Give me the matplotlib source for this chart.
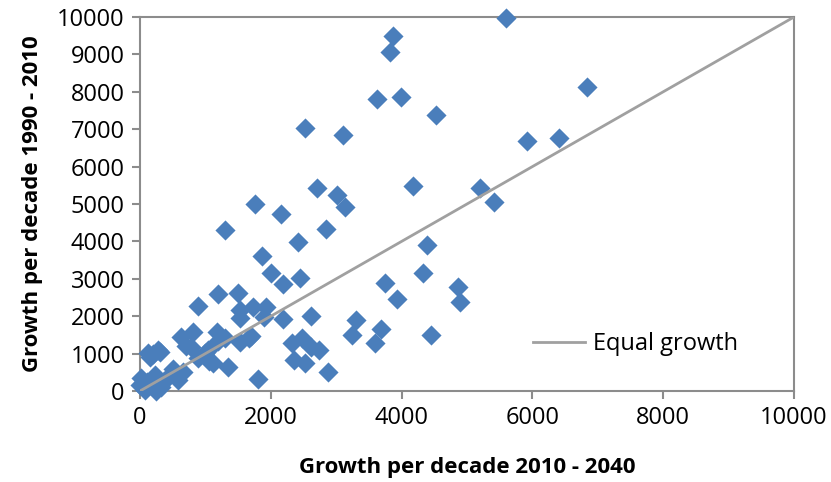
import matplotlib
matplotlib.use("Agg")
import matplotlib.pyplot as plt

# growth per decade, 2010 - 2040 (x) against 1990 - 2010 (y)
growth_2010_2040 = [
    5600, 3870, 3830, 3990, 3620, 4520, 6830, 5920, 6400, 4170,
    5200, 5410, 4390, 4330, 3740, 3930, 4860, 4890, 3680, 3600,
    4450, 2530, 3110, 2700, 3010, 3140, 1760, 2150, 1300, 2840,
    2410, 1860, 2010, 2180, 2450, 890, 1200, 1500, 1530, 1530,
    1730, 1920, 1890, 2190, 2610, 1700, 1530, 1170, 1040, 890,
    1120, 1350, 1810, 2320, 2470, 2610, 2730, 2350, 2530, 2880,
    3310, 3240, 630, 810, 780, 1000, 1300, 1660, 310, 150,
    280, 120, 15, 0, 80, 230, 320, 430, 580, 660,
    250, 100, 350, 1050, 700, 500, 1200, 200,
]
growth_1990_2010 = [
    9980, 9500, 9060, 7860, 7800, 7380, 8130, 6680, 6770, 5480,
    5430, 5050, 3900, 3150, 2890, 2460, 2780, 2380, 1660, 1280,
    1500, 7020, 6840, 5430, 5240, 4920, 5000, 4730, 4300, 4330,
    3990, 3610, 3150, 2860, 3020, 2270, 2590, 2620, 2170, 1950,
    2250, 2250, 1980, 1920, 2000, 1470, 1310, 1580, 1100, 880,
    750, 640, 320, 1280, 1420, 1180, 1100, 830, 750, 510,
    1900, 1500, 1440, 1580, 1180, 1020, 1420, 1420, 1040, 910,
    1100, 1020, 350, 160, 30, 430, 110, 370, 290, 510,
    0, 250, 250, 800, 1200, 600, 1350, 1000,
]
equal_line = [0, 10000]

x_ticks = [0, 2000, 4000, 6000, 8000, 10000]
y_ticks = list(range(0, 10001, 1000))

plt.rcParams['font.family'] = ['Open Sans', 'DejaVu Sans']

fig = plt.figure(figsize=(8.31, 4.82), dpi=100)
ax = fig.add_axes([140 / 831, 1 - 391 / 482, 654 / 831, 374 / 482])

ax.scatter(growth_2010_2040, growth_1990_2010, marker="D", s=105,
           color="#4a7ebb", linewidths=0, zorder=3, clip_on=False)
ax.plot(equal_line, equal_line, color="#a0a0a0", lw=2, zorder=4,
        label="Equal growth")

ax.set_xlim(0, 10000)
ax.set_ylim(0, 10000)
ax.set_xticks(x_ticks)
ax.set_yticks(y_ticks)

for s in ax.spines.values():
    s.set_color("#8c8c8c")
    s.set_linewidth(1.5)
ax.tick_params(colors="#8c8c8c", labelcolor="black", length=6, width=1.5,
               labelsize=17)
ax.tick_params(axis="x", pad=5)
ax.tick_params(axis="y", pad=5)

ax.set_xlabel("Growth per decade 2010 - 2040", fontsize=16, fontweight="bold",
              labelpad=19)
ax.set_ylabel("Growth per decade 1990 - 2010", fontsize=16, fontweight="bold",
              labelpad=10)

ax.legend(loc="center left", bbox_to_anchor=(0.568, 0.125), frameon=False,
          fontsize=17, handlelength=2.2, handletextpad=0.35)

fig.savefig("out.png", dpi=100)
